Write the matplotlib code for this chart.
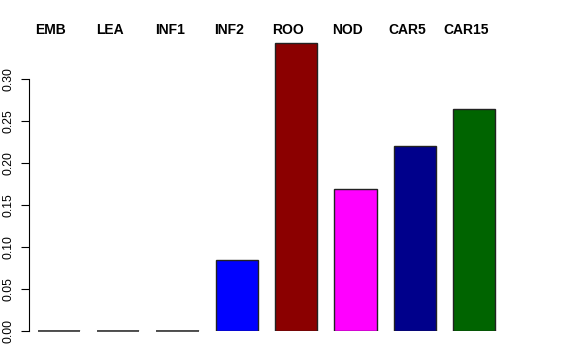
import numpy as np
import matplotlib.pyplot as plt
import matplotlib.transforms as mtransforms

tissues = ["EMB", "LEA", "INF1", "INF2", "ROO", "NOD", "CAR5", "CAR15"]
values = [0.0, 0.0, 0.0, 0.0845, 0.343, 0.169, 0.220, 0.264]
colours = ["#555555", "#8B0000", "#555555", "#0000FF", "#8B0000",
           "#FF00FF", "#00008B", "#006400"]

plt.rcParams['font.family'] = ['Liberation Sans', 'DejaVu Sans']

fig = plt.figure(figsize=(5.76, 3.6), dpi=100)
# axes placed in pixels: left 29, right 540, bottom 331 (y=0), top 37
ax = fig.add_axes([29 / 576, (360 - 331) / 360, (540 - 29) / 576, (331 - 37) / 360])

x = np.arange(len(tissues)) * 1.4
bars = ax.bar(x, values, width=1.0, color=colours, edgecolor="#222222",
              linewidth=1.0)
# empty bars still show their outline as a flat line in the original
for p in bars:
    if p.get_height() == 0:
        ax.plot([p.get_x(), p.get_x() + p.get_width()], [p.get_y()] * 2,
                color="#333333", lw=1.2, solid_capstyle="butt", clip_on=False)

ax.set_xlim(-0.708, 11.355)
ax.set_ylim(0, 0.35)

# labels sit a little left of the bar centres in the original
shift = mtransforms.offset_copy(ax.transData, fig=fig, x=-8, y=0, units="dots")
for xi, name in zip(x, tissues):
    ax.text(xi, 0.3585, name, ha="center", va="center", fontsize=10,
            fontweight="bold", clip_on=False, transform=shift)

for s in ["top", "right", "bottom"]:
    ax.spines[s].set_visible(False)
ax.spines["left"].set_bounds(0, 0.30)
ax.spines["left"].set_linewidth(0.8)
ax.set_xticks([])
ticks = np.arange(0, 0.31, 0.05)
ax.set_yticks(ticks)
ax.set_yticklabels(["%.2f" % t for t in ticks], rotation=90, va="center",
                   fontsize=8.7)
ax.tick_params(axis="y", length=5.8, width=0.8, pad=4.5)

fig.savefig("out.png", dpi=100)
